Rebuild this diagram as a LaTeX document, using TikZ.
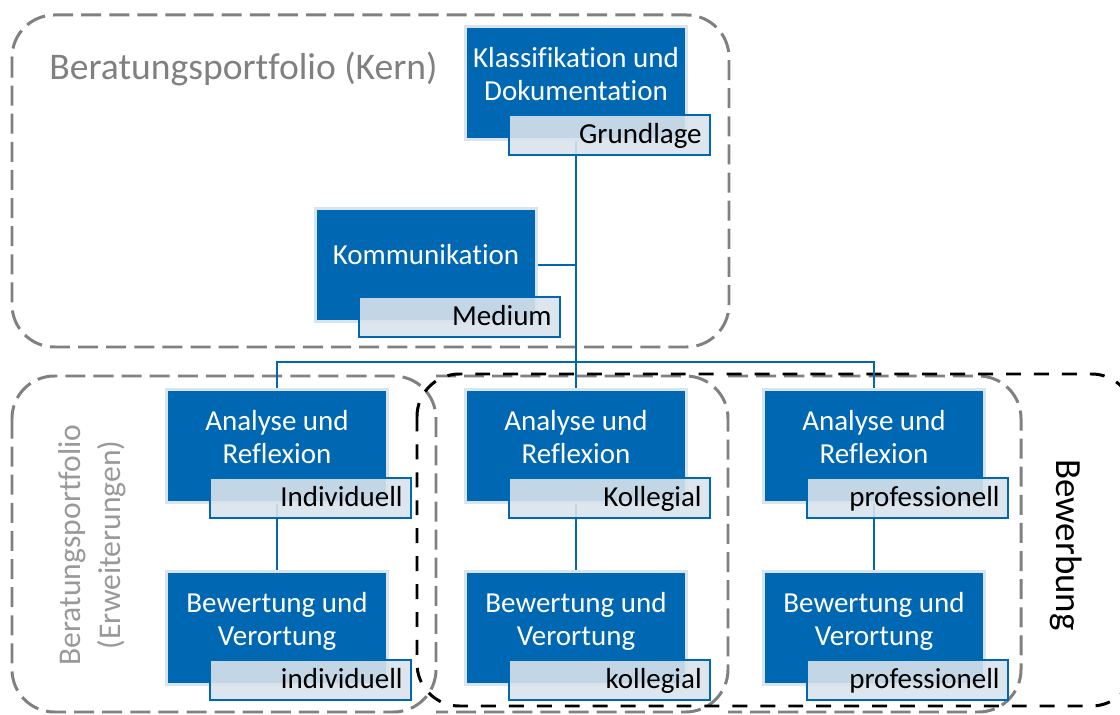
\documentclass[tikz,border=0pt]{standalone}
\usepackage{fontspec}
\setmainfont{Carlito}[Ligatures=NoCommon]
\usetikzlibrary{positioning}
\definecolor{portblue}{RGB}{0,104,178}
\definecolor{portrim}{RGB}{216,228,240}
\definecolor{portgray}{RGB}{217,227,236}
\begin{document}
\begin{tikzpicture}[x=0.02cm, y=-0.02cm,
    box/.style={fill=portblue, draw=portrim, line width=1.2pt, text=white, align=center,
        minimum width=4.42cm, minimum height=2.26cm, font=\fontsize{16.5}{18.8}\selectfont,
        text height=1.1cm, text depth=0.4cm},
    tag/.style={draw=portblue, line width=1pt, fill=portgray, fill opacity=0.9, text opacity=1,
        text width=3.7cm, align=right, inner xsep=0.16cm, inner ysep=0pt, minimum height=0.8cm,
        text height=0.46cm, text depth=0.1cm, anchor=south east, font=\fontsize{16.5}{18.8}\selectfont},
    link/.style={portblue, line width=1.1pt},
    portfolio/.style={black!50, line width=1.7pt, dash pattern=on 11.4pt off 4.6pt, rounded corners=0.85cm},
    apply/.style={black, line width=1.7pt, dash pattern=on 8.5pt off 7.4pt, rounded corners=0.85cm}]
        \useasboundingbox (0,0) rectangle (1120,715);

        \draw[portfolio] (12,15) rectangle (729,347);
        \draw[portfolio] (12,376) rectangle (436,712);
        \draw[portfolio] (436,376) -- (728,376) -- (728,712) -- (436,712);
        \draw[portfolio] (728,376) -- (1021,376) -- (1021,712) -- (728,712);
        \draw[apply] (417,374) rectangle (1134,706);

        \node[inner sep=0pt, anchor=base west, text=black!50, font=\fontsize{21.4}{25}\selectfont] (kern) at (49,80) {Beratungsportfolio (Kern)};
        \node[rotate=90, align=center, text=black!40, font=\fontsize{18}{22.8}\selectfont] (erweiterung) at (92,545) {Beratungsportfolio\\(Erweiterungen)};
        \node[rotate=-90, font=\fontsize{21}{25}\selectfont] (bewerbung) at (1066,545) {Bewerbung};

        \node[box] (klass) at (576,83) {Klassifikation und\\Dokumentation};
        \node[box, text height=0.4cm, text depth=0.4cm] (komm) at (426,265) {Kommunikation};

        \node[box] (ana1) at (277,446) {Analyse und\\Reflexion};
        \node[box] (ana2) at (576,446) {Analyse und\\Reflexion};
        \node[box] (ana3) at (874,446) {Analyse und\\Reflexion};
        \node[box] (bew1) at (277,628) {Bewertung und\\Verortung};
        \node[box] (bew2) at (576,628) {Bewertung und\\Verortung};
        \node[box] (bew3) at (874,628) {Bewertung und\\Verortung};

        \coordinate (bus) at (576,362);
        \draw[link] (klass.south) -- (ana2.north);
        \draw[link] (komm.east) -- (komm.east -| klass.south);
        \draw[link] (ana1.north) |- (bus) -| (ana3.north);
        \draw[link] (ana1.south) -- (bew1.north);
        \draw[link] (ana2.south) -- (bew2.north);
        \draw[link] (ana3.south) -- (bew3.north);

        \node[tag] (grundlage) at ([shift={(23,15)}]klass.south east) {Grundlage};
        \node[tag] (medium) at ([shift={(23,15)}]komm.south east) {Medium};
        \node[tag] (tagana1) at ([shift={(23,15)}]ana1.south east) {Individuell};
        \node[tag] (tagana2) at ([shift={(23,15)}]ana2.south east) {Kollegial};
        \node[tag] (tagana3) at ([shift={(23,15)}]ana3.south east) {professionell};
        \node[tag] (tagbew1) at ([shift={(23,15)}]bew1.south east) {individuell};
        \node[tag] (tagbew2) at ([shift={(23,15)}]bew2.south east) {kollegial};
        \node[tag] (tagbew3) at ([shift={(23,15)}]bew3.south east) {professionell};
\end{tikzpicture}
\end{document}
